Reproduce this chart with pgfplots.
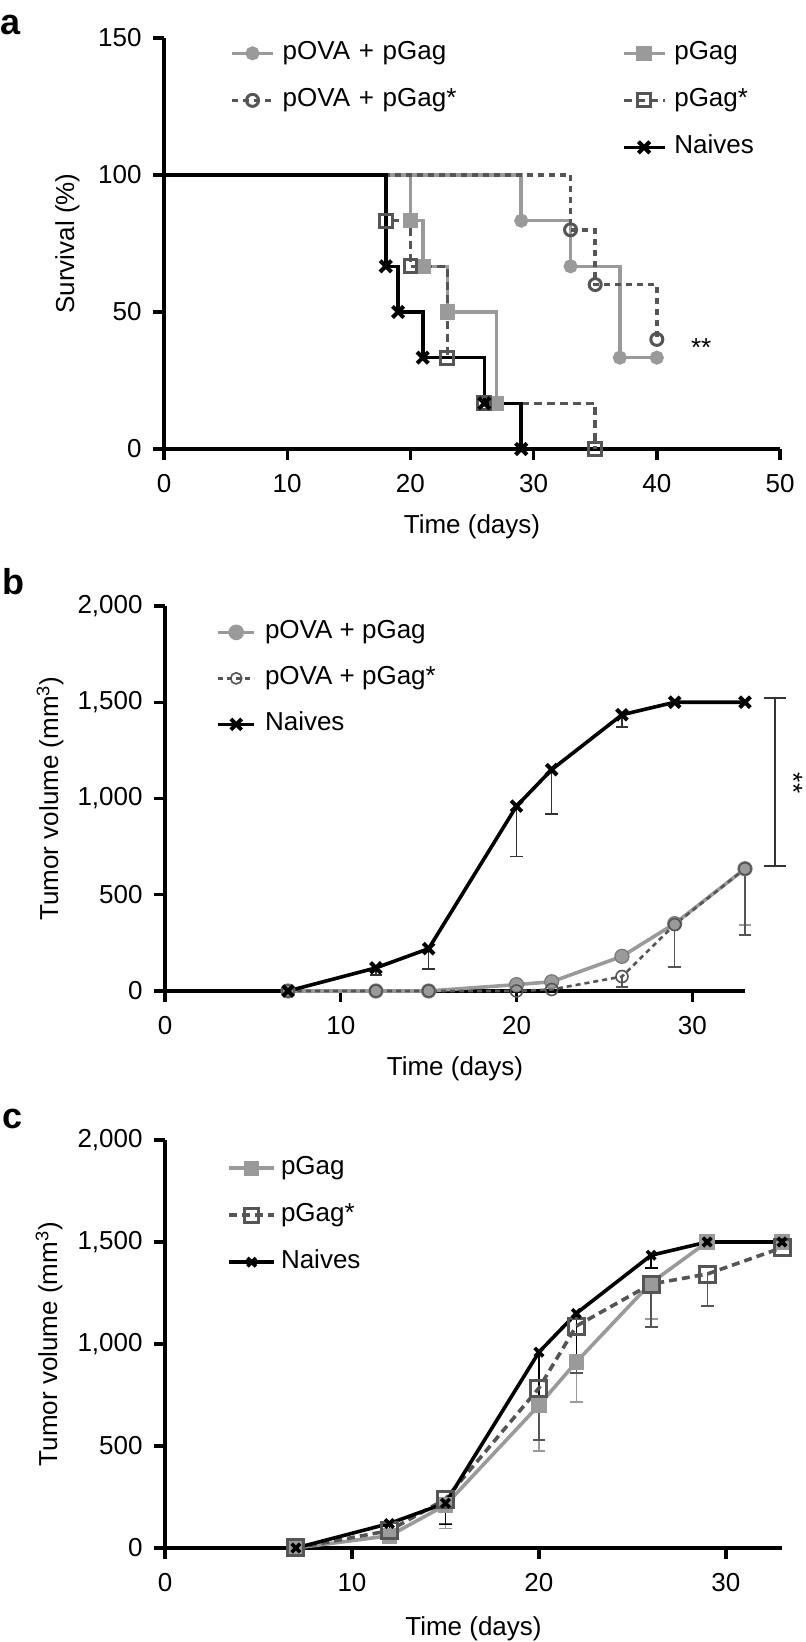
\documentclass[border=0pt]{standalone}
\usepackage{fontspec}
\setmainfont{Liberation Sans}
\usepackage{pgfplots}
\pgfplotsset{compat=1.18}
\definecolor{lg}{HTML}{9A9A9A}
\definecolor{dg}{HTML}{555555}
\definecolor{eb}{HTML}{333333}

\pgfplotsset{
  mystyle/.style={
    scale only axis, axis lines*=left,
    axis line style={line width=1.8pt,black},
    tick align=outside, major tick length=5.5pt,
    tick style={line width=1.7pt,black},
    enlargelimits=false, clip=false, xmin=0, ymin=0,
    font=\fontsize{13}{15}\selectfont,
    /pgf/number format/assume math mode=true,
    /pgf/number format/1000 sep={,},
    ticklabel style={font=\fontsize{13}{15}\selectfont},
    yticklabel style={inner sep=0pt, xshift=-5.5pt},
    xticklabel style={inner sep=0pt, yshift=-7pt},
    legend cell align=left,
    every axis plot/.append style={line width=1.8pt},
  },
  ebar/.style={forget plot, draw=none, mark=none,
    error bars/.cd, y dir=minus, y explicit,
    error bar style={draw=#1, line width=0.7pt, solid},
    error mark options={draw=#1, rotate=90, mark size=3.2pt, line width=0.7pt, solid}},
}

\begin{document}
\begin{tikzpicture}
\useasboundingbox (0pt,0pt) rectangle (403pt,821pt);

% panel labels
\node[anchor=west, inner sep=0pt, font=\bfseries\fontsize{18}{18}\selectfont] at (0pt,808.5pt) {a};
\node[anchor=west, inner sep=0pt, font=\bfseries\fontsize{18}{18}\selectfont] at (1pt,530pt) {b};
\node[anchor=west, inner sep=0pt, font=\bfseries\fontsize{18}{18}\selectfont] at (1pt,261.5pt) {c};

% ---------------- panel a
\begin{axis}[mystyle, at={(82pt,596.5pt)}, anchor=south west,
  width=308pt, height=205.5pt, xmax=50, ymax=150,
  xtick={0,10,...,50}, ytick={0,50,100,150},
  xlabel={Time (days)}, ylabel={Survival (\%)},
  xlabel style={at={(axis description cs:0.5,-0.19)}, anchor=center},
  ylabel style={at={(axis description cs:-0.157,0.5)}, anchor=center},
  legend columns=2,
  legend image code/.code={\draw[mark repeat=2,mark phase=2] plot coordinates {(0pt,0pt) (10.2pt,0pt) (20.4pt,0pt)};},
  legend style={draw=none, fill=none, at={(axis description cs:0.107,0.994)}, anchor=north west,
    inner sep=0pt, row sep=11pt,
    nodes={inner sep=0pt, text height=9.5pt, text depth=3pt, text width=169.6pt},
    /tikz/every odd column/.append style={column sep=4pt},
    /tikz/every even column/.append style={column sep=0pt}},
]
\addlegendimage{lg, line width=1.8pt, mark=*, mark size=2.6pt, mark options={solid}}
\addlegendentry{pOVA + pGag}
\addlegendimage{lg, line width=1.8pt, mark=square*, mark size=3pt, mark options={solid}}
\addlegendentry{pGag}
\addlegendimage{dg, line width=1.8pt, dash pattern=on 3pt off 2.5pt, mark=o, mark size=3pt, mark options={solid, line width=1.5pt}}
\addlegendentry{pOVA + pGag*}
\addlegendimage{dg, line width=1.8pt, dash pattern=on 4pt off 2.5pt, mark=square, mark size=3.2pt, mark options={solid, line width=1.5pt}}
\addlegendentry{pGag*}
\addlegendimage{empty legend}
\addlegendentry{}
\addlegendimage{black, line width=1.8pt, mark=x, mark size=4pt, mark options={solid, line width=2pt}}
\addlegendentry{Naives}

\addplot[forget plot, lg, const plot, mark=*, mark size=2.6pt, mark options={solid}, mark indices={2,3,4,5}]
  coordinates {(0,100) (29,83.33) (33,66.67) (37,33.33) (40,33.33)};
\addplot[forget plot, lg, const plot, mark=square*, mark size=3pt, mark options={solid}, mark indices={2,3,4,5}]
  coordinates {(0,100) (20,83.33) (21,66.67) (23,50) (27,16.67)};
\addplot[forget plot, dg, const plot, dash pattern=on 3pt off 2.5pt, mark=o, mark size=3pt, mark options={solid, line width=1.5pt}, mark indices={2,3,4}]
  coordinates {(0,100) (33,80) (35,60) (40,40)};
\addplot[forget plot, dg, const plot, dash pattern=on 4pt off 2.5pt, mark=square, mark size=3.2pt, mark options={solid, line width=1.5pt}, mark indices={2,3,4,5,6}]
  coordinates {(0,100) (18,83.33) (20,66.67) (23,33.33) (26,16.67) (35,0)};
\addplot[forget plot, black, const plot, mark=x, mark size=4pt, mark options={solid, line width=2pt}, mark indices={2,3,4,5,6}]
  coordinates {(0,100) (18,66.67) (19,50) (21,33.33) (26,16.67) (29,0)};
\node at (axis cs:43.6,37) {**};
\end{axis}

% ---------------- panel b
\begin{axis}[mystyle, at={(82.5pt,325.5pt)}, anchor=south west,
  width=290pt, height=192.5pt, xmax=33, ymax=2000,
  xtick={0,10,20,30}, ytick={0,500,1000,1500,2000},
  xlabel={Time (days)}, ylabel={Tumor volume (mm\textsuperscript{3})},
  xlabel style={at={(axis description cs:0.5,-0.2026)}, anchor=center},
  ylabel style={at={(axis description cs:-0.198,0.5)}, anchor=center},
  legend image code/.code={\draw[mark repeat=2,mark phase=2] plot coordinates {(0pt,0pt) (9pt,0pt) (18pt,0pt)};},
  legend style={draw=none, fill=none, at={(axis description cs:0.088,0.965)}, anchor=north west,
    inner sep=0pt, row sep=10.5pt,
    nodes={inner sep=0pt, text height=9.5pt, text depth=3pt},
    /tikz/every odd column/.append style={column sep=4.5pt}},
]
\addlegendimage{lg, line width=1.8pt, mark=*, mark size=3pt, mark options={solid}}
\addlegendentry{pOVA + pGag}
\addlegendimage{dg, line width=1.3pt, dash pattern=on 2.5pt off 2pt, mark=o, mark size=2.8pt, mark options={solid, line width=0.8pt}}
\addlegendentry{pOVA + pGag*}
\addlegendimage{black, line width=1.8pt, mark=x, mark size=3.8pt, mark options={solid, line width=2pt}}
\addlegendentry{Naives}

\addplot[ebar=eb] table[x=x, y=y, y error minus=e] {
x y e
12 120 37
15 220 105
20 960 260
22 1150 230
26 1435 63
};
\addplot[ebar=lg] table[x=x, y=y, y error minus=e] {
x y e
33 635 292
};
\addplot[ebar=dg] table[x=x, y=y, y error minus=e] {
x y e
26 75 55
29 345 220
33 635 345
};
\addplot[forget plot, lg, mark=*, mark size=3.5pt, mark options={solid, draw=dg!80, line width=0.6pt}] coordinates {
(7,0) (12,0) (15,0) (20,33) (22,48) (26,180) (29,350) (33,635)};
\addplot[forget plot, dg, line width=1.3pt, dash pattern=on 2.5pt off 2pt, mark=o, mark size=3pt, mark options={solid, line width=0.8pt}] coordinates {
(7,0) (12,0) (15,0) (20,0) (22,8) (26,75) (29,345) (33,635)};
\addplot[forget plot, black, mark=x, mark size=3.8pt, mark options={solid, line width=2pt}] coordinates {
(7,0) (12,120) (15,220) (20,960) (22,1150) (26,1435) (29,1500) (33,1500)};

\draw[eb, line width=0.8pt] (axis cs:34.08,1522) -- (axis cs:35.33,1522)
  (axis cs:34.7,1522) -- (axis cs:34.7,649)
  (axis cs:34.08,649) -- (axis cs:35.33,649);
\node[rotate=-90] at (axis cs:35.75,1080) {**};
\end{axis}

% ---------------- panel c
\begin{axis}[mystyle, at={(82.5pt,47pt)}, anchor=south west,
  width=308.5pt, height=204pt, xmax=33, ymax=2000,
  xtick={0,10,20,30}, ytick={0,500,1000,1500,2000},
  xlabel={Time (days)}, ylabel={Tumor volume (mm\textsuperscript{3})},
  xlabel style={at={(axis description cs:0.5,-0.1985)}, anchor=center},
  ylabel style={at={(axis description cs:-0.188,0.5)}, anchor=center},
  legend image code/.code={\draw[mark repeat=2,mark phase=2] plot coordinates {(0pt,0pt) (11.25pt,0pt) (22.5pt,0pt)};},
  legend style={draw=none, fill=none, at={(axis description cs:0.1005,0.9625)}, anchor=north west,
    inner sep=0pt, row sep=11pt,
    nodes={inner sep=0pt, text height=9.5pt, text depth=3pt},
    /tikz/every odd column/.append style={column sep=2.5pt}},
]
\addlegendimage{lg, line width=1.8pt, mark=square*, mark size=2.8pt, mark options={solid}}
\addlegendentry{pGag}
\addlegendimage{dg, line width=1.8pt, dash pattern=on 4pt off 2.5pt, mark=square, mark size=3.5pt, mark options={solid, line width=1.5pt}}
\addlegendentry{pGag*}
\addlegendimage{black, line width=1.8pt, mark=x, mark size=3pt, mark options={solid, line width=1.8pt}}
\addlegendentry{Naives}

\addplot[ebar=lg] table[x=x, y=y, y error minus=e] {
x y e
12 60 30
15 210 115
20 700 225
22 912 196
26 1300 178
};
\addplot[ebar=dg] table[x=x, y=y, y error minus=e] {
x y e
12 85 20
15 240 120
20 784 255
22 1088 230
26 1294 211
29 1343 157
};
\addplot[ebar=black] table[x=x, y=y, y error minus=e] {
x y e
12 120 37
15 220 105
20 960 260
22 1150 230
26 1435 63
};
\addplot[forget plot, lg, mark=square*, mark size=3pt, mark options={solid}] coordinates {
(7,0) (12,60) (15,210) (20,700) (22,912) (26,1300) (29,1500) (33,1500)};
\addplot[forget plot, dg, dash pattern=on 4pt off 2.5pt, mark=square, mark size=4pt, mark options={solid, line width=1.5pt}] coordinates {
(7,0) (12,85) (15,240) (20,784) (22,1088) (26,1294) (29,1343) (33,1472)};
\addplot[forget plot, black, mark=x, mark size=3pt, mark options={solid, line width=1.8pt}] coordinates {
(7,0) (12,120) (15,220) (20,960) (22,1150) (26,1435) (29,1500) (33,1500)};
\end{axis}
\end{tikzpicture}
\end{document}
